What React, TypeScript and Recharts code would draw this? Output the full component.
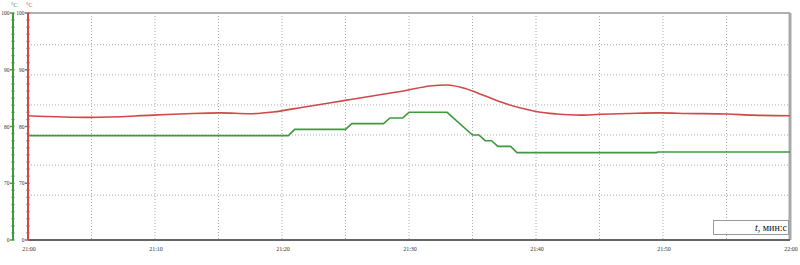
import React from "react"
import {
  LineChart,
  Line,
  XAxis,
  YAxis,
  CartesianGrid,
  ReferenceLine,
  Label
} from "recharts"

// minutes after 21:00 and temperature readings, °C
const redTimes = [0, 4.9, 9.85, 12.5, 15.1, 17.5, 19.3, 21.65, 22.75, 25.1, 27.7, 29.85, 31.65, 33.0, 34.0, 35.0, 35.8, 36.6, 37.7, 39.3, 40.1, 41.65, 43.5, 45.0, 47.4, 49.8, 51.9, 55.0, 57.1, 60]
const redValues = [81.9, 81.6, 82.0, 82.25, 82.4, 82.25, 82.55, 83.4, 83.8, 84.65, 85.6, 86.4, 87.15, 87.3, 86.95, 86.25, 85.55, 84.85, 83.95, 83.0, 82.6, 82.2, 82.0, 82.15, 82.3, 82.4, 82.3, 82.2, 82.0, 81.9]

const greenTimes = [0, 20.5, 21, 25, 25.5, 28, 28.5, 29.5, 30, 33, 35, 35.5, 36, 36.5, 37, 38, 38.5, 49.5, 49.6, 60]
const greenValues = [78.4, 78.4, 79.5, 79.5, 80.5, 80.5, 81.5, 81.5, 82.5, 82.5, 78.5, 78.5, 77.5, 77.5, 76.5, 76.5, 75.4, 75.4, 75.5, 75.5]

// axes
const xGridTicks = [0, 5, 10, 15, 20, 25, 30, 35, 40, 45, 50, 55, 60]
const xLabels = ["21:00", "21:10", "21:20", "21:30", "21:40", "21:50", "22:00"]
const yDomain = [60, 100]
const yLabelValues = [60, 70, 80, 90, 100]
const yLabels = ["0", "70", "80", "90", "100"]
const yGridTicks = [67.9, 73.2, 78.5, 83.8, 89.1, 94.4]
const yMinorStep = 1.25

const redData = redTimes.map((t, i) => ({ t, v: redValues[i] }))
const greenData = greenTimes.map((t, i) => ({ t, v: greenValues[i] }))
const yMinorTicks = Array.from({ length: Math.round((yDomain[1] - yDomain[0]) / yMinorStep) + 1 }, (_, i) => yDomain[0] + i * yMinorStep)

const RED = "#d04848"
const GREEN = "#3f9a3f"
const FONT = "'Liberation Serif', serif"

// tick marks along the coloured axes, labels only on the tens
const makeYTick = (color: string) => (props: any) => {
  const { x, y, payload } = props
  const idx = yLabelValues.indexOf(payload.value)
  const major = idx >= 0
  return (
    <g>
      <line x1={x - (major ? 3 : 1.5)} x2={x + 1.5} y1={y} y2={y} stroke={color} strokeWidth={1.4} />
      {major && (
        <text x={x - 3.5} y={y} dy={2} textAnchor="end" fontSize={5.5} fontFamily={FONT} fill="#333">
          {yLabels[idx]}
        </text>
      )}
    </g>
  )
}

const XTick = (props: any) => {
  const { x, y, payload } = props
  const v = payload.value
  if (v % 10 !== 0) return <g />
  return (
    <text x={x + 1} y={y + 11} textAnchor="middle" fontSize={6} fontFamily={FONT} fill="#333">
      {xLabels[v / 10]}
    </text>
  )
}

const unitLabel = (color: string) => (props: any) => {
  const vb = props.viewBox
  return (
    <text x={vb.x + vb.width - 2} y={7} fontSize={6} fontFamily={FONT} fill={color}>
      °C
    </text>
  )
}

// horizontal grid sits on its own spacing, not on the labelled values
const gridRows = (p: any) => {
  const off = p.offset || {}
  const top = off.top ?? 13
  const h = off.height ?? 227
  return yGridTicks.map((v) => top + ((yDomain[1] - v) / (yDomain[1] - yDomain[0])) * h)
}

export default function App() {
  return (
    <div style={{ position: "absolute", left: 0, top: 0, width: 800, height: 265, background: "#fff" }}>
      <LineChart width={800} height={265} margin={{ top: 13, right: 10, bottom: 0, left: 0 }}>
        <XAxis
          dataKey="t"
          type="number"
          domain={[0, 60]}
          ticks={xGridTicks}
          interval={0}
          height={25}
          tickSize={0}
          tickMargin={0}
          tickLine={false}
          axisLine={{ stroke: "#666", strokeWidth: 2 }}
          tick={XTick}
        />
        <YAxis
          yAxisId="a_red"
          type="number"
          domain={yDomain}
          ticks={yMinorTicks}
          interval={0}
          width={15}
          tickSize={0}
          tickMargin={0}
          tickLine={false}
          axisLine={{ stroke: RED, strokeWidth: 2 }}
          tick={makeYTick(RED)}
        >
          <Label content={unitLabel(RED)} />
        </YAxis>
        <YAxis
          yAxisId="b_green"
          type="number"
          domain={yDomain}
          ticks={yMinorTicks}
          interval={0}
          width={13}
          tickSize={0}
          tickMargin={0}
          tickLine={false}
          axisLine={{ stroke: GREEN, strokeWidth: 2 }}
          tick={makeYTick(GREEN)}
        >
          <Label content={unitLabel(GREEN)} />
        </YAxis>
        <CartesianGrid
          yAxisId="a_red"
          stroke="#aaaaaa"
          strokeDasharray="1 2"
          horizontalCoordinatesGenerator={gridRows}
        />
        <ReferenceLine yAxisId="a_red" y={100} stroke="#b0b0b0" strokeWidth={2} />
        <ReferenceLine yAxisId="a_red" x={60} stroke="#a8a8a8" strokeWidth={3} />
        <Line
          yAxisId="a_red"
          data={redData}
          dataKey="v"
          type="monotone"
          stroke={RED}
          strokeWidth={1.6}
          dot={false}
          isAnimationActive={false}
        />
        <Line
          yAxisId="b_green"
          data={greenData}
          dataKey="v"
          type="linear"
          stroke={GREEN}
          strokeWidth={1.6}
          dot={false}
          isAnimationActive={false}
        />
      </LineChart>
      <div
        style={{
          position: "absolute",
          left: 713,
          top: 220,
          width: 76,
          height: 15,
          border: "1px solid #999",
          background: "#fff",
          boxSizing: "border-box",
          fontFamily: FONT,
          fontSize: 10,
          lineHeight: "14px",
          textAlign: "right",
          paddingRight: 1,
          color: "#111"
        }}
      >
        <i>t</i>, мин:с
      </div>
    </div>
  )
}
